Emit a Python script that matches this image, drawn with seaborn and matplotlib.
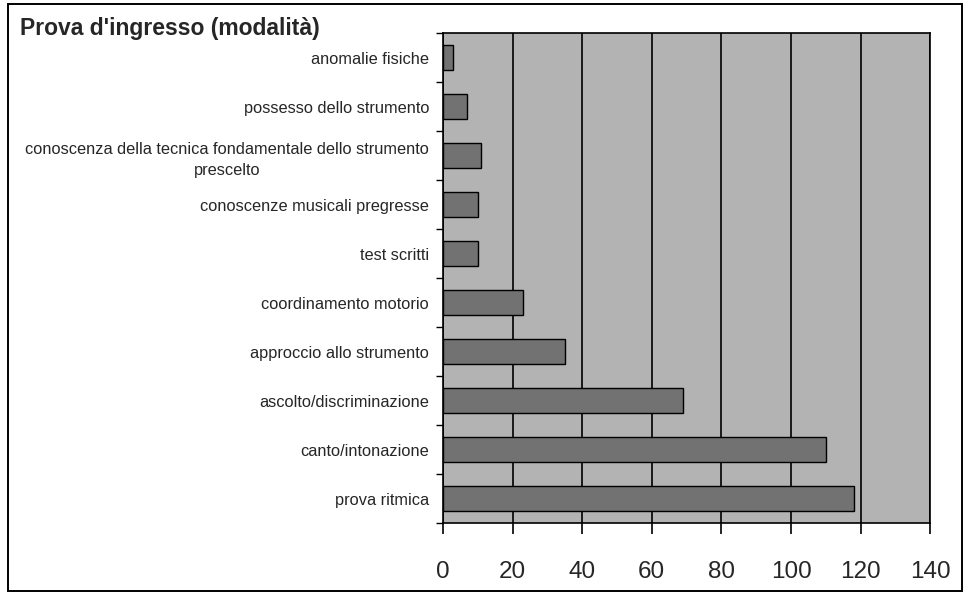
import matplotlib
matplotlib.use("Agg")
import matplotlib.pyplot as plt
from matplotlib.patches import Rectangle
import seaborn as sns
import pandas as pd

categories = [
    "anomalie fisiche",
    "possesso dello strumento",
    "conoscenza della tecnica fondamentale dello strumento\nprescelto",
    "conoscenze musicali pregresse",
    "test scritti",
    "coordinamento motorio",
    "approccio allo strumento",
    "ascolto/discriminazione",
    "canto/intonazione",
    "prova ritmica",
]
values = [3, 7, 11, 10, 10, 23, 35, 69, 110, 118]
x_ticks = [0, 20, 40, 60, 80, 100, 120, 140]
title = "Prova d'ingresso (modalità)"

sns.set_theme(style="white")
plt.rcParams["font.family"] = ["Liberation Sans", "DejaVu Sans"]

df = pd.DataFrame({"modalita": categories, "n": values})

fig = plt.figure(figsize=(9.65, 6.04), dpi=100)
ax = fig.add_axes([0.459, 0.134, 0.505, 0.811])
ax.set_facecolor("#b3b3b3")

sns.barplot(data=df, x="n", y="modalita", order=categories, orient="h",
            color="#727272", saturation=1, width=0.5,
            edgecolor="black", linewidth=1.0, ax=ax, zorder=3)

ax.set_xlim(0, 140)
ax.set_ylim(len(categories) - 0.5, -0.5)
ax.set_xticks(x_ticks)
ax.set_xticklabels([str(t) for t in x_ticks], fontsize=17.5)
ax.grid(axis="x", color="black", linewidth=1.2, zorder=1)
ax.set_axisbelow(True)

# category ticks sit between the bars
ax.set_yticks(range(len(categories)))
ax.set_yticklabels(categories, fontsize=11.8, multialignment="center", linespacing=1.45)
ax.set_yticks([i - 0.5 for i in range(len(categories) + 1)], minor=True)
ax.tick_params(axis="y", which="major", length=0, pad=10)
ax.tick_params(axis="y", which="minor", left=True, length=5, width=1, color="black")
ax.tick_params(axis="x", which="major", bottom=True, length=8, width=1.2,
               color="black", pad=19, direction="out")

for s in ax.spines.values():
    s.set_visible(True)
    s.set_color("black")
    s.set_linewidth(1.2)

ax.set_xlabel("")
ax.set_ylabel("")

fig.text(0.021, 0.952, title, fontsize=16.5, fontweight="bold", ha="left", va="center")

# outer chart frame
fig.patches.append(Rectangle((0.008, 0.022), 0.989, 0.972, transform=fig.transFigure,
                             fill=False, edgecolor="black", linewidth=1.4))

fig.savefig("out.png", dpi=100, facecolor="white")
